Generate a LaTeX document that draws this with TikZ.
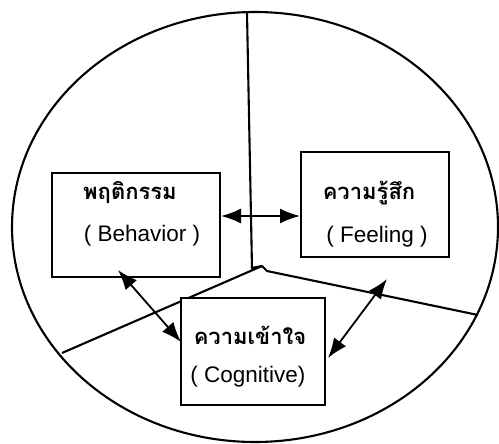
\documentclass[tikz,border=0pt]{standalone}
\usepackage{fontspec}
\setmainfont{Liberation Sans}
\newfontfamily\thaifont[Script=Thai]{Loma}
\usetikzlibrary{arrows.meta}
\begin{document}
\begin{tikzpicture}[x=1pt,y=-1pt,
  box/.style={draw,line width=2pt,inner sep=0pt},
  th/.style={font=\thaifont\bfseries\fontsize{22}{24}\selectfont,inner sep=0pt},
  en/.style={font=\fontsize{22.5}{24}\selectfont,inner sep=0pt},
  tip/.style={},
  link/.style={line width=1.8pt,{Latex[length=20pt,width=15pt]}-{Latex[length=20pt,width=15pt]}},
  part/.style={line width=2.1pt}]
\useasboundingbox (0,0) rectangle (499,444);
\draw[part] (255,227) ellipse [x radius=243, y radius=215];
\coordinate (ctop) at (247,13);
\coordinate (cleft) at (62,353);
\coordinate (cright) at (478,315);
\draw[part] (ctop) -- (252,268) -- (262,266) -- (267,271) -- (cright);
\draw[part] (cleft) -- (262,266);
% boxes
\node[box,fill=white,minimum width=168pt,minimum height=104pt] (beh) at (136,225) {};
\node[box,fill=white,minimum width=148pt,minimum height=105pt] (feel) at (375,204.5) {};
\node[box,fill=white,minimum width=144pt,minimum height=107pt] (cog) at (253,351.5) {};
% texts
\node[th] (behth) at (130,193) {พฤติกรรม};
\node[en] (behen) at (142,236) {( Behavior )};
\node[th] (feelth) at (369,193) {ความรู้สึก};
\node[en] (feelen) at (377,237) {( Feeling )};
\node[th] (cogth) at (250,335) {ความเข้าใจ};
\node[en] (cogen) at (248,377) {( Cognitive)};
% arrows
\coordinate (a1) at (118,270);
\coordinate (a2) at (181,342);
\coordinate (b1) at (387,279);
\coordinate (b2) at (328,358);
\draw[link] (beh.east |- 0,216) -- (feel.west |- 0,216);
\draw[link] (a1) -- (a2);
\draw[link] (b1) -- (b2);
\end{tikzpicture}
\end{document}
